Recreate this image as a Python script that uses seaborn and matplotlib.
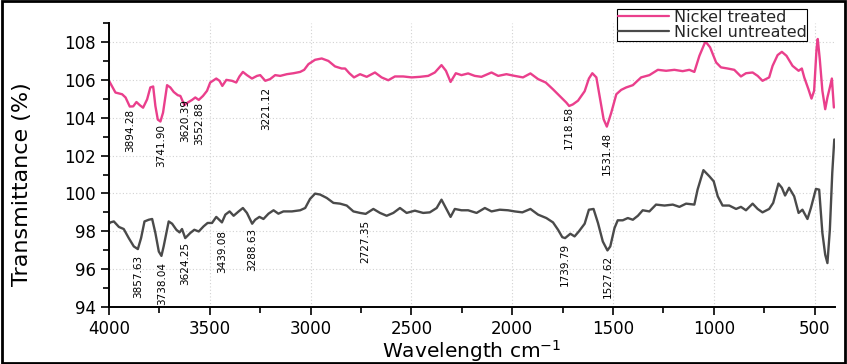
import numpy as np
import pandas as pd
import matplotlib
matplotlib.use("Agg")
import matplotlib.pyplot as plt
from matplotlib.patches import Rectangle
from matplotlib.ticker import MultipleLocator
import seaborn as sns

# FTIR spectra (wavenumber cm-1, transmittance %)
treated_x = [4000, 3968, 3935, 3918, 3897, 3880, 3864, 3847, 3831, 3811, 3795, 3781,
             3770, 3758, 3745, 3732, 3712, 3696, 3679, 3659, 3646, 3626, 3610, 3588,
             3572, 3555, 3534, 3514, 3498, 3468, 3452, 3438, 3418, 3390, 3369, 3353,
             3336, 3316, 3291, 3266, 3250, 3225, 3201, 3176, 3151, 3118, 3085, 3052,
             3032, 3011, 2978, 2945, 2912, 2879, 2846, 2829, 2808, 2785, 2755, 2722,
             2681, 2648, 2615, 2582, 2541, 2499, 2458, 2417, 2384, 2351, 2329, 2306,
             2280, 2252, 2219, 2186, 2153, 2103, 2070, 2029, 1988, 1947, 1910, 1872,
             1834, 1798, 1765, 1732, 1718, 1700, 1674, 1641, 1620, 1603, 1583, 1564,
             1547, 1531, 1509, 1484, 1460, 1435, 1402, 1361, 1320, 1278, 1237, 1196,
             1155, 1122, 1097, 1072, 1042, 1019, 989, 965, 932, 899, 866, 841, 808,
             783, 759, 726, 709, 684, 663, 640, 610, 580, 564, 552, 531, 516, 503,
             491, 485, 475, 462, 448, 437, 425, 415, 405]
treated_y = [105.95, 105.33, 105.24, 105.07, 104.59, 104.60, 104.83, 104.66, 104.53, 104.97,
             105.60, 105.65, 104.62, 103.90, 103.80, 104.27, 105.72, 105.60, 105.36, 105.19,
             105.15, 104.66, 104.80, 104.94, 105.07, 104.94, 105.15, 105.42, 105.86, 106.07,
             105.95, 105.68, 106.00, 105.95, 105.86, 106.18, 106.42, 106.25, 106.07, 106.21,
             106.25, 105.95, 106.04, 106.25, 106.21, 106.30, 106.35, 106.42, 106.53, 106.83,
             107.06, 107.13, 107.00, 106.71, 106.60, 106.60, 106.35, 106.13, 106.30, 106.16,
             106.39, 106.13, 105.98, 106.18, 106.18, 106.13, 106.16, 106.21, 106.39, 106.78,
             106.48, 105.89, 106.35, 106.25, 106.34, 106.21, 106.16, 106.39, 106.21, 106.30,
             106.21, 106.13, 106.34, 106.04, 105.86, 105.50, 105.15, 104.80, 104.62, 104.70,
             104.90, 105.40, 106.07, 106.35, 106.13, 104.98, 103.92, 103.53, 104.27, 105.24,
             105.47, 105.60, 105.72, 106.13, 106.25, 106.53, 106.48, 106.53, 106.46, 106.53,
             106.42, 107.27, 108.03, 107.72, 106.92, 106.66, 106.60, 106.53, 106.18, 106.35,
             106.39, 106.21, 105.95, 106.13, 106.74, 107.31, 107.48, 107.27, 106.74, 106.48,
             106.60, 106.13, 105.50, 105.01, 105.42, 107.63, 108.16, 107.10, 105.42, 104.45,
             105.07, 105.60, 106.07, 104.54]

untreated_x = [4000, 3993, 3976, 3951, 3927, 3902, 3877, 3857, 3841, 3824, 3803, 3786,
               3770, 3753, 3740, 3729, 3704, 3687, 3666, 3650, 3638, 3622, 3597, 3577,
               3555, 3531, 3511, 3489, 3468, 3440, 3423, 3402, 3382, 3357, 3336, 3316,
               3290, 3275, 3254, 3234, 3209, 3184, 3160, 3135, 3093, 3052, 3027, 3003,
               2978, 2953, 2920, 2887, 2854, 2821, 2788, 2755, 2727, 2689, 2656, 2623,
               2590, 2557, 2524, 2483, 2442, 2409, 2375, 2351, 2329, 2306, 2285, 2252,
               2219, 2177, 2136, 2103, 2062, 2021, 1988, 1950, 1910, 1872, 1831, 1798,
               1773, 1752, 1738, 1712, 1691, 1670, 1641, 1620, 1597, 1575, 1551, 1528,
               1514, 1493, 1477, 1452, 1427, 1402, 1377, 1353, 1320, 1287, 1245, 1204,
               1171, 1138, 1097, 1081, 1052, 1023, 1001, 981, 957, 924, 890, 866, 841,
               808, 783, 759, 726, 706, 680, 663, 647, 627, 602, 580, 561, 536, 519,
               494, 478, 462, 448, 437, 425, 413, 403]
untreated_y = [98.40, 98.47, 98.52, 98.23, 98.12, 97.64, 97.20, 97.06, 97.64, 98.52,
               98.61, 98.65, 97.91, 96.93, 96.70, 97.20, 98.52, 98.40, 98.08, 97.94,
               98.12, 97.64, 97.91, 98.08, 97.99, 98.26, 98.44, 98.44, 98.76, 98.47,
               98.88, 99.05, 98.82, 99.05, 99.23, 98.97, 98.40, 98.61, 98.76, 98.65,
               98.93, 99.11, 98.93, 99.05, 99.05, 99.11, 99.23, 99.71, 99.99, 99.94,
               99.76, 99.50, 99.46, 99.36, 99.05, 98.97, 98.92, 99.18, 98.97, 98.82,
               98.97, 99.23, 98.97, 99.09, 98.97, 99.00, 99.23, 99.67, 99.23, 98.76,
               99.18, 99.11, 99.11, 98.97, 99.23, 99.05, 99.14, 99.11, 99.05, 99.00,
               99.18, 98.88, 98.70, 98.47, 98.08, 97.69, 97.64, 97.87, 97.73, 97.99,
               98.40, 99.14, 99.18, 98.44, 97.46, 96.99, 97.20, 98.17, 98.58, 98.58,
               98.70, 98.61, 98.82, 99.11, 99.05, 99.41, 99.36, 99.41, 99.29, 99.46,
               99.41, 100.20, 101.23, 100.91, 100.64, 99.85, 99.36, 99.36, 99.18, 99.29,
               99.11, 99.46, 99.18, 99.00, 99.18, 99.50, 100.52, 100.30, 99.89, 100.30,
               99.85, 98.97, 99.14, 98.65, 99.23, 100.24, 100.20, 97.91, 96.76, 96.32,
               98.08, 101.09, 102.85]

# peak labels and the top of each rotated label (transmittance)
treated_peaks = ["3894.28", "3741.90", "3620.39", "3552.88", "3221.12", "1718.58", "1531.48"]
treated_label_top = [104.45, 103.65, 104.98, 104.82, 105.61, 104.60, 103.23]
untreated_peaks = ["3857.63", "3738.04", "3624.25", "3439.08", "3288.63", "2727.35",
                   "1739.79", "1527.62"]
untreated_label_top = [96.76, 96.39, 97.45, 98.08, 98.19, 98.61, 97.39, 96.76]

pink = "#EA3F8C"
grey = "#4A4A4A"

sns.set_theme(style="white")
plt.rcParams['font.family'] = ['DejaVu Sans']

df_t = pd.DataFrame({"wn": treated_x, "T": treated_y})
df_u = pd.DataFrame({"wn": untreated_x, "T": untreated_y})

fig = plt.figure(figsize=(8.47, 3.64), dpi=100)
ax = fig.add_axes([0.1287, 0.1566, 0.857, 0.780])

sns.lineplot(data=df_t, x="wn", y="T", ax=ax, color=pink, lw=1.7,
             label="Nickel treated", sort=False)
sns.lineplot(data=df_u, x="wn", y="T", ax=ax, color=grey, lw=1.7,
             label="Nickel untreated", sort=False)

for lab, top in zip(treated_peaks, treated_label_top):
    ax.text(float(lab), top, lab, rotation=90, ha="center", va="top",
            fontsize=7.5, color="black")
for lab, top in zip(untreated_peaks, untreated_label_top):
    ax.text(float(lab), top, lab, rotation=90, ha="center", va="top",
            fontsize=7.5, color="black")

ax.set_xlim(4000, 400)
ax.set_ylim(94, 109)
ax.xaxis.set_major_locator(MultipleLocator(500))
ax.xaxis.set_minor_locator(MultipleLocator(250))
ax.yaxis.set_major_locator(MultipleLocator(2))
ax.yaxis.set_minor_locator(MultipleLocator(1))
ax.set_yticks(np.arange(94, 109, 2))

ax.grid(True, which="major", color="#d2d2d2", linestyle=(0, (1, 2)), linewidth=0.8)
for s in ["top", "right"]:
    ax.spines[s].set_visible(False)
for s in ["left", "bottom"]:
    ax.spines[s].set_color("black")
    ax.spines[s].set_linewidth(1.4)

ax.tick_params(which="major", direction="out", length=6, width=1.2, color="black",
               labelsize=12, labelcolor="black", left=True, bottom=True)
ax.tick_params(which="minor", direction="out", length=4, width=1.2, color="black",
               left=True, bottom=True)

ax.set_xlabel("Wavelength cm$^{-1}$", fontsize=14.5, color="black")
ax.xaxis.set_label_coords(0.5, -0.108)
ax.xaxis.label.set_va("top")
ax.set_ylabel("Transmittance (%)", fontsize=16, color="black")
ax.yaxis.set_label_coords(-0.106, 0.433)

ax.legend_.remove()
handles, labels = ax.get_legend_handles_labels()
leg = fig.legend(handles, labels, loc="upper right", bbox_to_anchor=(0.953, 0.975),
                 fontsize=11.5, frameon=True, fancybox=False, framealpha=1,
                 edgecolor="black", borderpad=0.05, labelspacing=0.0,
                 handlelength=3.2, handletextpad=0.3, borderaxespad=0)
leg.get_frame().set_linewidth(0.8)
for line in leg.get_lines():
    line.set_linewidth(1.6)

fig.patches.append(Rectangle((0.002, 0.003), 0.996, 0.994, transform=fig.transFigure,
                             fill=False, edgecolor="black", linewidth=2))

fig.savefig("out.png", dpi=100)
